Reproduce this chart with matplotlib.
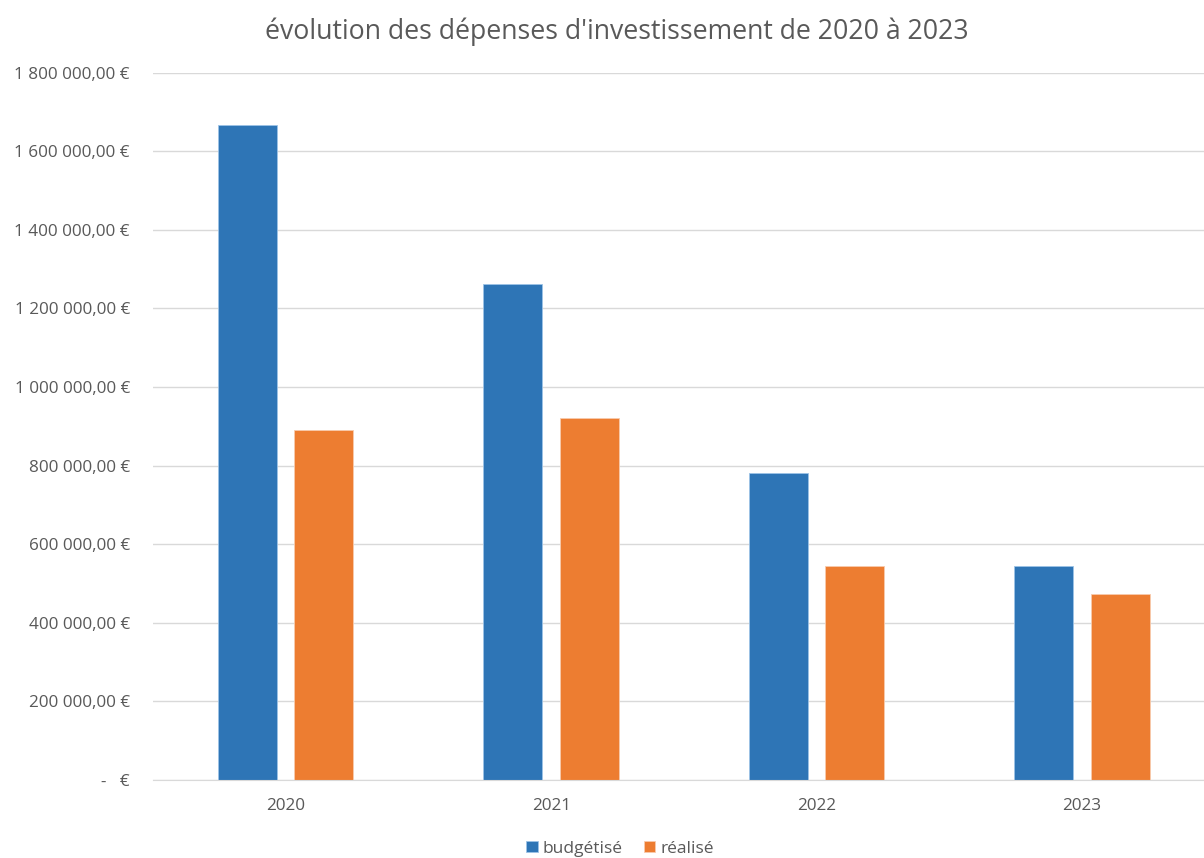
import numpy as np
import matplotlib.pyplot as plt
from matplotlib.ticker import FuncFormatter

annees = ['2020', '2021', '2022', '2023']
budgetise = [1668000, 1262000, 782000, 545000]
realise = [891000, 920000, 545000, 474000]

BLEU = '#2E75B6'
ORANGE = '#ED7D31'
GRIS = '#595959'

plt.rcParams['font.family'] = ['Open Sans', 'DejaVu Sans']


def euros(v, pos):
    if v == 0:
        return '-   €'
    s = f'{v:,.2f}'.replace(',', ' ').replace('.', ',')
    return s + ' €'


fig = plt.figure(figsize=(12.04, 8.58), dpi=100)
ax = fig.add_axes([0.127, 0.0909, 0.882, 0.8244])

x = np.arange(len(annees))
largeur = 0.222
ecart = 0.144
ax.bar(x - ecart, budgetise, largeur, color=BLEU, label='budgétisé',
       edgecolor='#9DC3E6', linewidth=0.6)
ax.bar(x + ecart, realise, largeur, color=ORANGE, label='réalisé',
       edgecolor='#F8CBAD', linewidth=0.6)

ax.set_xlim(-0.5, len(annees) - 0.5)
ax.set_ylim(0, 1800000)
ax.set_yticks(np.arange(0, 1800001, 200000))
ax.yaxis.set_major_formatter(FuncFormatter(euros))
ax.set_xticks(x)
ax.set_xticklabels(annees)

ax.grid(axis='y', color='#D9D9D9', linewidth=1)
ax.set_axisbelow(True)
for side in ['top', 'right', 'left']:
    ax.spines[side].set_visible(False)
ax.spines['bottom'].set_color('#D9D9D9')
ax.tick_params(axis='both', length=0, colors=GRIS, labelsize=12.3)
ax.tick_params(axis='y', pad=16.5)
ax.tick_params(axis='x', pad=13)

fig.text(0.512, 0.963, "évolution des dépenses d'investissement de 2020 à 2023",
         ha='center', va='center', fontsize=19.2, color=GRIS)

fig.legend(loc='center', bbox_to_anchor=(0.515, 0.011), ncol=2, frameon=False,
           fontsize=12.5, labelcolor=GRIS, handlelength=0.65, handleheight=0.65,
           handletextpad=0.3, columnspacing=1.2)

fig.savefig('out.png', dpi=100)
